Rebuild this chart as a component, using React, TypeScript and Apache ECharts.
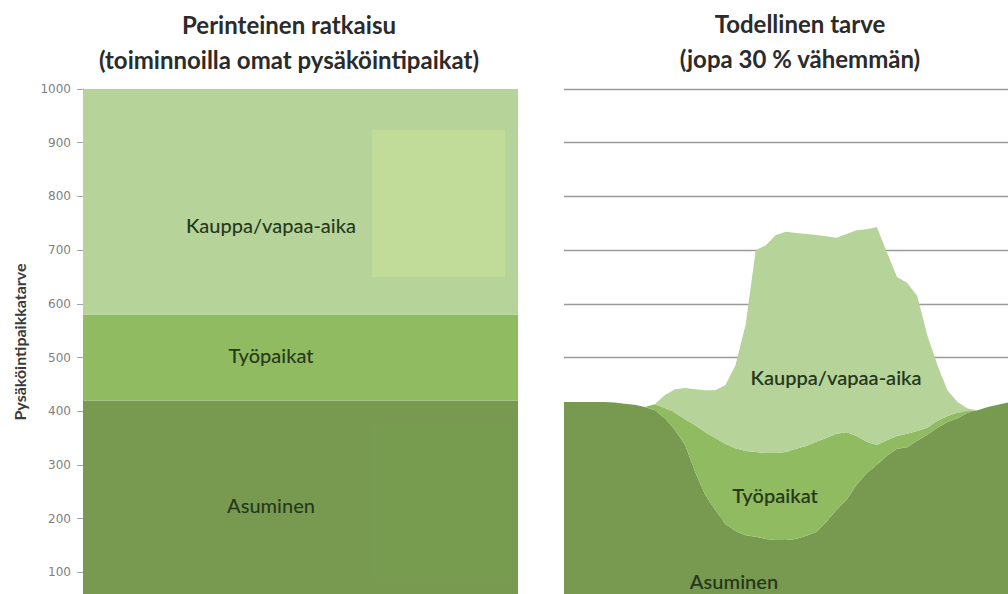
import React, { useEffect, useRef } from "react";
import * as echarts from "echarts";

// ---- Data ----
const leftCategories = ["Perinteinen ratkaisu"];
const leftAsuminen = [420];
const leftTyopaikat = [160];
const leftKauppa = [420];

const yTicks = [0, 100, 200, 300, 400, 500, 600, 700, 800, 900, 1000];

// Right panel: time steps across the day (unlabelled in the original)
const rightSteps = Array.from({ length: 45 }, (_, i) => String(i));
const rightAsuminen = [
  417, 417, 417, 417, 417, 416, 414, 412, 408, 402, 387, 365, 337, 287, 244,
  216, 190, 177, 169, 166, 162, 160, 160, 162, 168, 175, 194, 216, 235, 263,
  285, 300, 317, 330, 333, 345, 356, 369, 380, 387, 397, 402, 408, 412, 416,
];
const rightTyopaikat = [
  0, 0, 0, 0, 0, 0, 0, 0, 0, 11, 19, 32, 48, 87, 117,
  134, 149, 154, 157, 158, 160, 162, 164, 168, 167, 168, 156, 142, 126, 91,
  58, 37, 29, 24, 25, 18, 13, 13, 11, 10, 3, 0, 0, 0, 0,
];
const rightKauppa = [
  0, 0, 0, 0, 0, 0, 0, 0, 0, 0, 24, 44, 58, 67, 78,
  89, 110, 155, 235, 376, 387, 406, 410, 402, 395, 385, 376, 365, 369, 383,
  396, 406, 350, 296, 281, 252, 173, 104, 48, 20, 5, 0, 0, 0, 0,
];

const COL_KAUPPA = "#b6d49a";
const COL_TYO = "#90bb61";
const COL_ASU = "#789a50";
const LABEL_COL = "#27391c";
const FONT = "Lato, 'Open Sans', sans-serif";

export default function App() {
  const ref = useRef<HTMLDivElement>(null);

  useEffect(() => {
    document.body.style.margin = "0";
    if (!ref.current) return;
    const chart = echarts.init(ref.current, undefined, { renderer: "svg" });

    const labelText = (text: string, x: number, y: number, size: number, weight: string) => ({
      type: "text",
      x,
      y,
      z: 20,
      style: {
        text,
        fill: LABEL_COL,
        font: `${weight} ${size}px ${FONT}`,
        textAlign: "center",
        textVerticalAlign: "middle",
      },
    });

    const titleStyle = {
      fontFamily: FONT,
      fontSize: 24,
      fontWeight: "bold",
      color: "#2b2b2b",
      lineHeight: 35,
    };

    chart.setOption({
      animation: false,
      backgroundColor: "#ffffff",
      textStyle: { fontFamily: FONT },
      title: [
        {
          text: "Perinteinen ratkaisu\n(toiminnoilla omat pysäköintipaikat)",
          left: 289,
          top: 7,
          textAlign: "center",
          padding: 0,
          textStyle: titleStyle,
        },
        {
          text: "Todellinen tarve\n(jopa 30 % vähemmän)",
          left: 800,
          top: 6,
          textAlign: "center",
          padding: 0,
          textStyle: titleStyle,
        },
      ],
      grid: [
        { left: 83, top: 89, width: 435, height: 537, outerBoundsMode: "none", containLabel: false },
        { left: 564, top: 89, width: 444, height: 537, outerBoundsMode: "none", containLabel: false },
      ],
      xAxis: [
        {
          type: "category",
          gridIndex: 0,
          data: leftCategories,
          show: false,
        },
        {
          type: "category",
          gridIndex: 1,
          data: rightSteps,
          boundaryGap: false,
          show: false,
        },
      ],
      yAxis: [
        {
          type: "value",
          gridIndex: 0,
          min: yTicks[0],
          max: yTicks[yTicks.length - 1],
          interval: 100,
          axisLine: { show: true, lineStyle: { color: "#a6a6a6", width: 1 } },
          axisTick: { show: true, length: 6, lineStyle: { color: "#a6a6a6" } },
          axisLabel: {
            show: true,
            showMinLabel: false,
            margin: 12,
            color: "#7f7f7f",
            fontSize: 12,
            fontFamily: "'DejaVu Sans', sans-serif",
            formatter: (v: number) => (v === 0 ? "" : String(v)),
          },
          splitLine: { show: false },
        },
        {
          type: "value",
          gridIndex: 1,
          min: yTicks[0],
          max: yTicks[yTicks.length - 1],
          interval: 100,
          axisLine: { show: false },
          axisTick: { show: false },
          axisLabel: { show: false },
          splitLine: { show: true, lineStyle: { color: "#9a9a9a", width: 1.3 } },
        },
      ],
      series: [
        {
          name: "Asuminen",
          type: "bar",
          xAxisIndex: 0,
          yAxisIndex: 0,
          stack: "left",
          barCategoryGap: "0%",
          barWidth: "100%",
          data: leftAsuminen,
          itemStyle: { color: COL_ASU },
        },
        {
          name: "Työpaikat",
          type: "bar",
          xAxisIndex: 0,
          yAxisIndex: 0,
          stack: "left",
          barWidth: "100%",
          data: leftTyopaikat,
          itemStyle: { color: COL_TYO },
        },
        {
          name: "Kauppa/vapaa-aika",
          type: "bar",
          xAxisIndex: 0,
          yAxisIndex: 0,
          stack: "left",
          barWidth: "100%",
          data: leftKauppa,
          itemStyle: { color: COL_KAUPPA },
        },
        {
          name: "Asuminen",
          type: "line",
          xAxisIndex: 1,
          yAxisIndex: 1,
          stack: "right",
          symbol: "none",
          lineStyle: { width: 0 },
          areaStyle: { color: COL_ASU, opacity: 1 },
          data: rightAsuminen,
        },
        {
          name: "Työpaikat",
          type: "line",
          xAxisIndex: 1,
          yAxisIndex: 1,
          stack: "right",
          symbol: "none",
          lineStyle: { width: 0 },
          areaStyle: { color: COL_TYO, opacity: 1 },
          data: rightTyopaikat,
        },
        {
          name: "Kauppa/vapaa-aika",
          type: "line",
          xAxisIndex: 1,
          yAxisIndex: 1,
          stack: "right",
          symbol: "none",
          lineStyle: { width: 0 },
          areaStyle: { color: COL_KAUPPA, opacity: 1 },
          data: rightKauppa,
        },
      ],
      graphic: [
        // faint decorative patches present in the original picture
        {
          type: "rect",
          z: 5,
          shape: { x: 372, y: 130, width: 133, height: 147 },
          style: { fill: "#c1dc99" },
        },
        {
          type: "rect",
          z: 5,
          shape: { x: 372, y: 425, width: 140, height: 152 },
          style: { fill: "#779c4f" },
        },
        {
          type: "text",
          x: 19,
          y: 342,
          rotation: Math.PI / 2,
          z: 20,
          style: {
            text: "Pysäköintipaikkatarve",
            fill: "#3a3a3a",
            font: `bold 16px ${FONT}`,
            textAlign: "center",
            textVerticalAlign: "middle",
          },
        },
        labelText("Kauppa/vapaa-aika", 271, 225, 20, "500"),
        labelText("Työpaikat", 271, 355, 20, "500"),
        labelText("Asuminen", 271, 505, 20, "500"),
        labelText("Kauppa/vapaa-aika", 836, 377, 20, "600"),
        labelText("Työpaikat", 775, 495, 20, "600"),
        labelText("Asuminen", 734, 581, 20, "600"),
      ],
    });

    return () => chart.dispose();
  }, []);

  return <div ref={ref} style={{ width: 1008, height: 594 }} />;
}
